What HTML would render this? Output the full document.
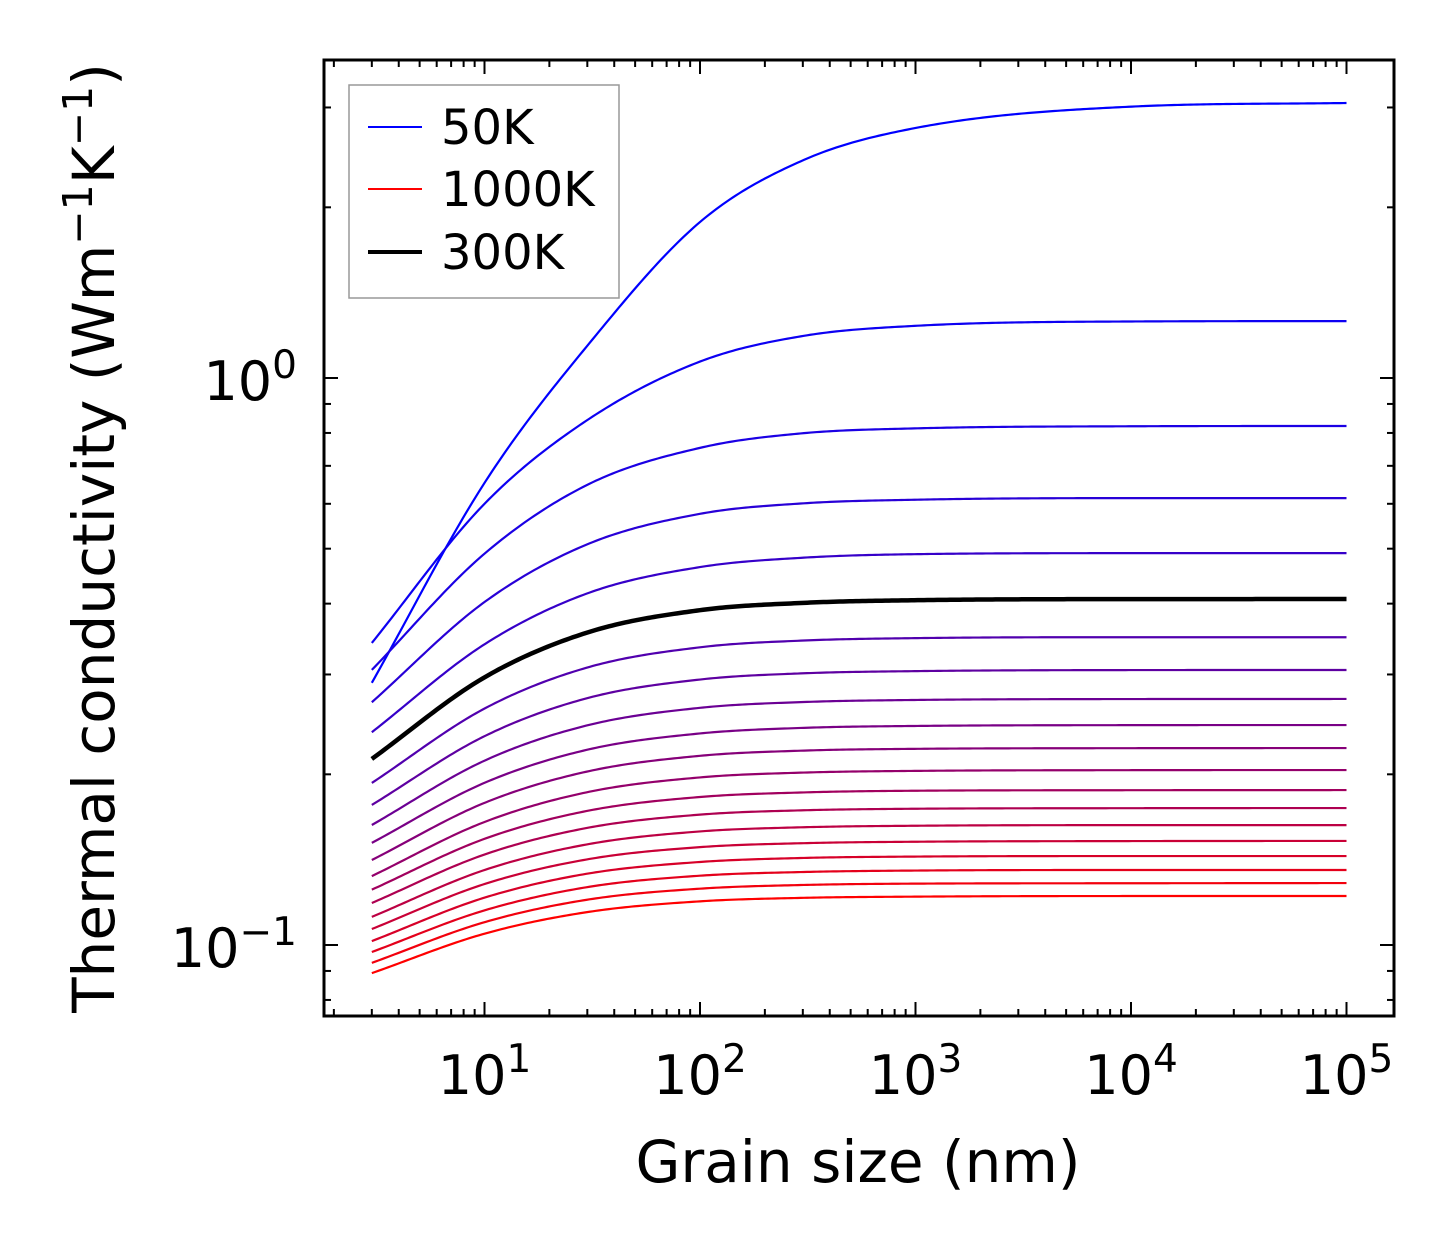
<!DOCTYPE html>
<html><head><meta charset="utf-8"><style>
body{margin:0;background:#fff}
svg text{font-family:"DejaVu Sans","Liberation Sans",sans-serif;fill:#000}
</style></head><body>
<svg id="chart" width="1454" height="1254" xmlns="http://www.w3.org/2000/svg">
<g id="curves"></g>
<g id="ticks"></g>
<rect x="324" y="60" width="1070" height="956" fill="none" stroke="#000" stroke-width="3"/>
<g>
<rect x="349" y="85" width="270" height="213" fill="#fff" stroke="#999" stroke-width="1.5"/>
<line x1="368" y1="127" x2="422" y2="127" stroke="#0000ff" stroke-width="2"/>
<text x="441" y="144" font-size="48">50K</text>
<line x1="368" y1="189" x2="422" y2="189" stroke="#ff0000" stroke-width="2"/>
<text x="441" y="206" font-size="48">1000K</text>
<line x1="368" y1="252" x2="422" y2="252" stroke="#000" stroke-width="4"/>
<text x="441" y="269" font-size="48">300K</text>
</g>
<text x="858" y="1182" font-size="58" text-anchor="middle">Grain size (nm)</text>
<text transform="translate(114,538) rotate(-90)" font-size="58" text-anchor="middle">Thermal conductivity (Wm<tspan dy="-22" font-size="41">−1</tspan><tspan dy="22">K</tspan><tspan dy="-22" font-size="41">−1</tspan><tspan dy="22">)</tspan></text>
</svg>
<script>
const temps = [50,100,150,200,250,300,350,400,450,500,550,600,650,700,750,800,850,900,950,1000];
const sizes = [3,10,30,100,300,1000,10000,100000];
const kAt3 = [0.290,0.341,0.3056,0.268,0.2373,0.2129,0.1931,0.1766,0.1628,0.1514,0.1412,0.1323,0.1252,0.1186,0.1121,0.1067,0.1016,0.0972,0.0930,0.0892];
const kAt10 = [0.653,0.600,0.490,0.4026,0.3391,0.2965,0.2612,0.2335,0.2114,0.1932,0.1781,0.1648,0.1539,0.1444,0.1356,0.1281,0.1212,0.1151,0.1097,0.1047];
const kAt30 = [1.14,0.843,0.648,0.509,0.417,0.3557,0.3086,0.2725,0.2440,0.2210,0.2023,0.1860,0.1724,0.1609,0.1505,0.1416,0.1336,0.1265,0.1202,0.1143];
const kAt100 = [1.884,1.069,0.753,0.576,0.464,0.3895,0.335,0.2939,0.2620,0.2361,0.2156,0.1975,0.1824,0.1698,0.1586,0.1488,0.1401,0.1325,0.1257,0.1194];
const kAt300 = [2.42,1.186,0.799,0.601,0.482,0.4012,0.3443,0.3014,0.2682,0.2415,0.2202,0.2014,0.1858,0.1728,0.1613,0.1512,0.1424,0.1345,0.1276,0.1211];
const kAt1000 = [2.76,1.236,0.815,0.610,0.489,0.4056,0.3477,0.3041,0.2705,0.2434,0.2218,0.2028,0.1871,0.1739,0.1623,0.1521,0.1432,0.1353,0.1283,0.1217];
const kAt1e4 = [3.01,1.258,0.822,0.614,0.491,0.4074,0.3490,0.3054,0.2715,0.2442,0.2224,0.2034,0.1875,0.1743,0.1627,0.1525,0.1435,0.1356,0.1285,0.1220];
const kAt1e5 = [3.055,1.260,0.823,0.614,0.491,0.4075,0.3490,0.3055,0.2716,0.2443,0.2225,0.2035,0.1876,0.1744,0.1627,0.1526,0.1435,0.1356,0.1286,0.1220];
const xTickLabels = ["1","2","3","4","5"];
const yTickExp = ["0","−1"];

const NS="http://www.w3.org/2000/svg";
const xs = v => 484.5 + (Math.log10(v)-1)*215.5;
const ys = v => 378 - Math.log10(v)*567;

function mono(xa, ya, x){
  const n=xa.length, d=[], m=[];
  for(let i=0;i<n-1;i++) d.push((ya[i+1]-ya[i])/(xa[i+1]-xa[i]));
  m[0]=d[0]; m[n-1]=d[n-2];
  for(let i=1;i<n-1;i++) m[i]=(d[i-1]*d[i]<=0)?0:(d[i-1]+d[i])/2;
  for(let i=0;i<n-1;i++){ if(d[i]===0){m[i]=m[i+1]=0;continue;}
    const a=m[i]/d[i], b=m[i+1]/d[i], s=a*a+b*b;
    if(s>9){const t=3/Math.sqrt(s); m[i]=t*a*d[i]; m[i+1]=t*b*d[i];}}
  let i=0; while(i<n-2 && x>xa[i+1]) i++;
  const h=xa[i+1]-xa[i], t=(x-xa[i])/h;
  const h00=2*t*t*t-3*t*t+1,h10=t*t*t-2*t*t+t,h01=-2*t*t*t+3*t*t,h11=t*t*t-t*t;
  return h00*ya[i]+h10*h*m[i]+h01*ya[i+1]+h11*h*m[i+1];
}
const cg=document.getElementById('curves');
const order=[...temps.keys()].filter(i=>temps[i]!==300).concat(temps.indexOf(300));
order.forEach(i=>{
  const lx=sizes.map(Math.log10);
  const ly=[kAt3[i],kAt10[i],kAt30[i],kAt100[i],kAt300[i],kAt1000[i],kAt1e4[i],kAt1e5[i]].map(Math.log10);
  let d="";
  for(let j=0;j<=300;j++){
    const l=lx[0]+(lx[lx.length-1]-lx[0])*j/300;
    const v=Math.pow(10,mono(lx,ly,l));
    d+=(j?"L":"M")+xs(Math.pow(10,l)).toFixed(2)+","+ys(v).toFixed(2);
  }
  const p=document.createElementNS(NS,'path');
  
  
  const t=i/(temps.length-1);
  const col=temps[i]===300?'#000':`rgb(${Math.round(255*t)},0,${Math.round(255*(1-t))})`;
  p.setAttribute('d',d); p.setAttribute('fill','none'); p.setAttribute('stroke',col);
  p.setAttribute('stroke-width',temps[i]===300?4.5:2.2);
  cg.appendChild(p);
});
const tg=document.getElementById('ticks');
function ln(x1,y1,x2,y2,name){const l=document.createElementNS(NS,'line');
  
  
  l.setAttribute('x1',x1);l.setAttribute('y1',y1);l.setAttribute('x2',x2);l.setAttribute('y2',y2);
  l.setAttribute('stroke','#000');l.setAttribute('stroke-width',2);tg.appendChild(l);}
function tx(x,y,s,sup,anchor,name){const t=document.createElementNS(NS,'text');
  
  
  t.setAttribute('x',x);t.setAttribute('y',y);t.setAttribute('font-size',54);t.setAttribute('text-anchor',anchor);
  t.innerHTML=s+'<tspan dy="-22" font-size="39">'+sup+'</tspan>';tg.appendChild(t);}
for(let e=0;e<=5;e++)for(let m=1;m<10;m++){const v=m*Math.pow(10,e);const x=xs(v);
  if(x<326||x>1392)continue;const L=m===1?14:7;
  ln(x,1016,x,1016-L,'x-tick');ln(x,60,x,60+L,'x-tick-top');}
xTickLabels.forEach(e=>tx(xs(Math.pow(10,+e)),1094,'10',e,'middle','x-tick-label'));
for(let e=-2;e<=0;e++)for(let m=1;m<10;m++){const v=m*Math.pow(10,e);const y=ys(v);
  if(y<62||y>1014)continue;const L=m===1?14:7;
  ln(324,y,324+L,y,'y-tick');ln(1394,y,1394-L,y,'y-tick-right');}
yTickExp.forEach((e,i)=>tx(297,ys(Math.pow(10,-i))+22,'10',e,'end','y-tick-label'));
</script>
</body></html>
